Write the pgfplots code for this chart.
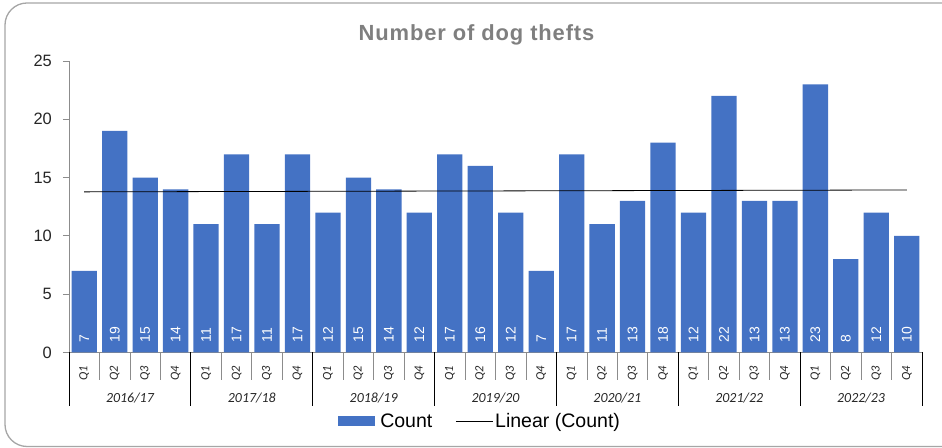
\documentclass[border=0pt]{standalone}
\usepackage{fontspec}
\setmainfont{Liberation Sans}
\newfontfamily\calib{Carlito}
\newfontfamily\titlefont[LetterSpace=4]{Liberation Sans}
\usepackage{pgfplots}
\usepackage{pgfplotstable}
\pgfplotsset{compat=1.18}

\definecolor{barblue}{HTML}{4472C4}
\definecolor{titlegray}{HTML}{7F7F7F}
\definecolor{framegray}{HTML}{A6A6A6}
\definecolor{axisgray}{HTML}{8C8C8C}
\definecolor{labeltext}{HTML}{262626}

% quarterly counts, 2016/17 Q1 .. 2022/23 Q4
\pgfplotstableread{
x  y
1  7
2  19
3  15
4  14
5  11
6  17
7  11
8  17
9  12
10 15
11 14
12 12
13 17
14 16
15 12
16 7
17 17
18 11
19 13
20 18
21 12
22 22
23 13
24 13
25 23
26 8
27 12
28 10
}\thefts

\begin{document}
\begin{tikzpicture}[x=1bp,y=1bp]
\useasboundingbox (0,0) rectangle (942,448);
\draw[framegray, line width=1.3bp, rounded corners=22bp] (5,1.5) rectangle (970,445);
\node[anchor=base, text=titlegray, font=\titlefont\bfseries\fontsize{22}{24}\selectfont]
  at (476.5,407) {Number of dog thefts};

\begin{axis}[
  at={(69bp,95.5bp)}, anchor=south west,
  scale only axis, width=853bp, height=291.5bp,
  xmin=0.5, xmax=28.5, ymin=0, ymax=25,
  clip=false,
  axis lines=left,
  axis line style={-, draw=axisgray, line width=0.8bp},
  tick align=outside,
  major tick length=6bp,
  ytick={0,5,...,25},
  ytick style={draw=axisgray, line width=0.8bp},
  yticklabel style={font=\fontsize{16.5}{16.5}\selectfont, text=labeltext, inner sep=0pt, xshift=-11bp},
  /pgf/number format/assume math mode=true,
  xtick={1,...,28},
  xtick style={draw=none},
  xticklabels={Q1,Q2,Q3,Q4,Q1,Q2,Q3,Q4,Q1,Q2,Q3,Q4,Q1,Q2,Q3,Q4,Q1,Q2,Q3,Q4,Q1,Q2,Q3,Q4,Q1,Q2,Q3,Q4},
  xticklabel style={font=\calib\itshape\fontsize{12.5}{13}\selectfont, text=labeltext,
    inner sep=0pt, yshift=-7.5bp, rotate=90, anchor=east},
  legend columns=2,
  legend style={at={(0.482,-0.235)}, anchor=center, draw=none,
    font=\fontsize{19.6}{20}\selectfont, text=black,
    /tikz/every even column/.append style={column sep=21bp}},
]
\addplot[ybar, bar width=0.83, fill=barblue, draw=none,
  legend image code/.code={\fill[barblue] (0bp,-5bp) rectangle (37bp,5bp); \path (40bp,0bp);}]
  table[x=x, y=y] {\thefts};
\addlegendentry{Count}

\addplot[black, line width=0.8bp, mark=none,
  legend image code/.code={\draw[black, line width=0.8bp] (-3bp,0bp) -- (34bp,0bp);}]
  coordinates {(1,13.776) (28,13.938)};
\addlegendentry{Linear (Count)}

% value labels inside the bars
\addplot[draw=none, mark=none, forget plot, point meta=explicit,
  nodes near coords,
  nodes near coords style={yshift=10bp, rotate=90, anchor=west, inner sep=0pt,
    text=white, font=\fontsize{14}{14}\selectfont}]
  table[x=x, y expr=0, meta=y] {\thefts};

% category separators
\pgfplotsinvokeforeach{0.5,1.5,...,28.5}{
  \draw[axisgray, line width=0.8bp] (axis cs:#1,0) -- ([yshift=-27.5bp]axis cs:#1,0);
}
\pgfplotsinvokeforeach{0.5,4.5,...,28.5}{
  \draw[black, line width=0.8bp] (axis cs:#1,0) -- ([yshift=-54bp]axis cs:#1,0);
}

\node[font=\calib\itshape\fontsize{14}{14}\selectfont, text=labeltext] at ([yshift=-45.5bp]axis cs:2.5,0) {2016/17};
\node[font=\calib\itshape\fontsize{14}{14}\selectfont, text=labeltext] at ([yshift=-45.5bp]axis cs:6.5,0) {2017/18};
\node[font=\calib\itshape\fontsize{14}{14}\selectfont, text=labeltext] at ([yshift=-45.5bp]axis cs:10.5,0) {2018/19};
\node[font=\calib\itshape\fontsize{14}{14}\selectfont, text=labeltext] at ([yshift=-45.5bp]axis cs:14.5,0) {2019/20};
\node[font=\calib\itshape\fontsize{14}{14}\selectfont, text=labeltext] at ([yshift=-45.5bp]axis cs:18.5,0) {2020/21};
\node[font=\calib\itshape\fontsize{14}{14}\selectfont, text=labeltext] at ([yshift=-45.5bp]axis cs:22.5,0) {2021/22};
\node[font=\calib\itshape\fontsize{14}{14}\selectfont, text=labeltext] at ([yshift=-45.5bp]axis cs:26.5,0) {2022/23};
\end{axis}
\end{tikzpicture}
\end{document}
